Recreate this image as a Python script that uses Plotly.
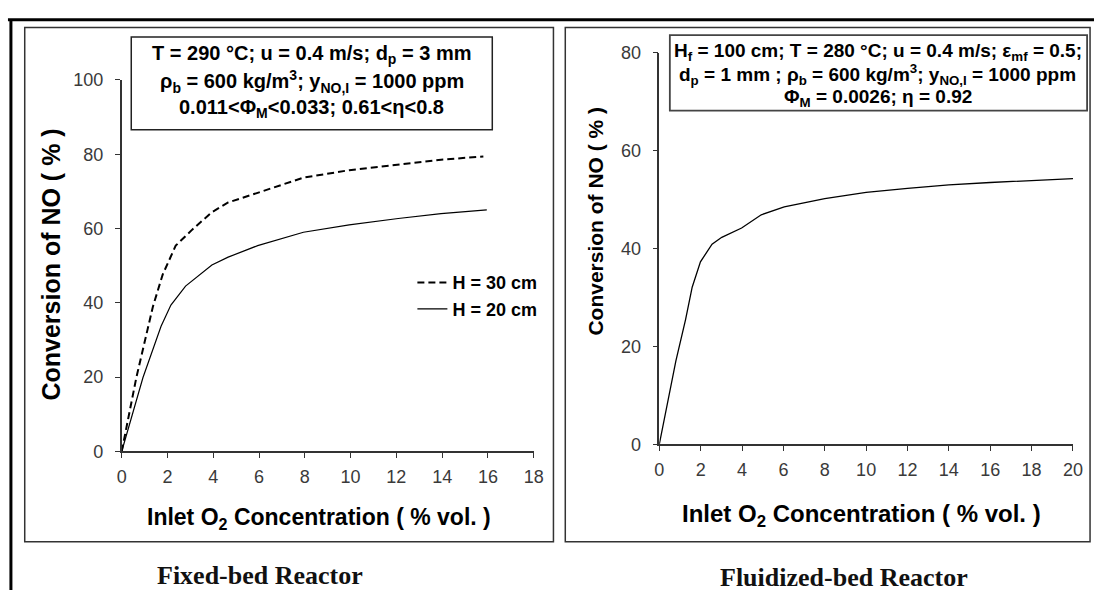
import plotly.graph_objects as go

# ---------------- data ----------------
fixed_x_h30 = [0, 0.64, 1.36, 1.79, 2.36, 3.08, 3.94, 4.65, 5.94, 7.94, 9.94, 12.08, 13.95, 15.8]
fixed_y_h30 = [0, 19.9, 38.9, 47.6, 55.4, 59.7, 64.4, 67.0, 69.6, 73.7, 75.7, 77.1, 78.5, 79.4]

fixed_x_h20 = [0, 0.93, 1.72, 2.15, 2.79, 3.94, 4.65, 5.94, 7.94, 9.94, 12.08, 13.95, 15.95]
fixed_y_h20 = [0, 19.9, 33.7, 39.4, 44.5, 50.2, 52.3, 55.4, 59.0, 61.0, 62.7, 64.0, 65.0]

fluid_x = [0, 0.4, 0.8, 1.27, 1.59, 1.99, 2.55, 3.02, 3.98, 4.93, 6.04, 8.0, 10.0, 12.0, 14.0, 16.0, 18.0, 20.0]
fluid_y = [0, 8.4, 17.0, 25.5, 32.1, 37.3, 40.9, 42.3, 44.2, 46.9, 48.5, 50.2, 51.5, 52.3, 53.0, 53.5, 53.9, 54.3]

fixed_xticks = list(range(0, 19, 2))
fixed_yticks = list(range(0, 101, 20))
fluid_xticks = list(range(0, 21, 2))
fluid_yticks = list(range(0, 81, 20))

legend_names = ["H = 30 cm", "H = 20 cm"]
y_title = "Conversion of NO ( % )"
x_title = "Inlet O<sub>2</sub> Concentration ( % vol. )"
fixed_caption = "Fixed-bed Reactor"
fluid_caption = "Fluidized-bed Reactor"
fixed_box_lines = [
    "T = 290 °C; u = 0.4 m/s; d<sub>p</sub> = 3 mm",
    "ρ<sub>b</sub> = 600 kg/m<sup>3</sup>; y<sub>NO,I</sub> = 1000 ppm",
    "0.011&lt;Φ<sub>M</sub>&lt;0.033; 0.61&lt;η&lt;0.8",
]
fluid_box_lines = [
    "H<sub>f</sub> = 100 cm; T = 280 °C; u = 0.4 m/s; ε<sub>mf</sub> = 0.5;",
    "d<sub>p</sub> = 1 mm ; ρ<sub>b</sub> = 600 kg/m<sup>3</sup>; y<sub>NO,I</sub> = 1000 ppm",
    "Φ<sub>M</sub> = 0.0026; η = 0.92",
]

# ---------------- helpers ----------------
W, H = 1104, 600
def px(x):
    return x / W
def py(y):
    return 1 - y / H

SANS = "Liberation Sans, Arial, sans-serif"
SERIF = "Liberation Serif, Times New Roman, serif"
AX = "#333333"
TICKC = "#3a3a3a"

fig = go.Figure()

fig.add_trace(go.Scatter(x=fixed_x_h30, y=fixed_y_h30, mode="lines",
                         name="<b>" + legend_names[0] + "</b>",
                         line=dict(color="black", width=2, dash="7px,4px"),
                         xaxis="x", yaxis="y"))
fig.add_trace(go.Scatter(x=fixed_x_h20, y=fixed_y_h20, mode="lines",
                         name="<b>" + legend_names[1] + "</b>",
                         line=dict(color="black", width=1.2),
                         xaxis="x", yaxis="y"))
fig.add_trace(go.Scatter(x=fluid_x, y=fluid_y, mode="lines", showlegend=False,
                         line=dict(color="black", width=1.3),
                         xaxis="x2", yaxis="y2"))

axis_common = dict(showline=True, linecolor=AX, linewidth=1.5, ticks="outside",
                   ticklen=5, tickwidth=1.2, tickcolor=AX, showgrid=False,
                   zeroline=False, tickfont=dict(family=SANS, size=18, color=TICKC))

fig.update_layout(
    width=W, height=H,
    margin=dict(l=0, r=0, t=0, b=0),
    paper_bgcolor="white", plot_bgcolor="white",
    xaxis=dict(domain=[px(118.3), px(536)], range=[0, 18], tickvals=fixed_xticks,
               anchor="y", ticklabelstandoff=3, **axis_common),
    yaxis=dict(domain=[py(456.7), py(72.3)], range=[0, 100], tickvals=fixed_yticks,
               anchor="x", ticklabelstandoff=8, **axis_common),
    xaxis2=dict(domain=[px(663.3), px(1082.7)], range=[0, 20], tickvals=fluid_xticks,
                anchor="y2", ticklabelstandoff=3, **axis_common),
    yaxis2=dict(domain=[py(449.3), py(44.3)], range=[0, 80], tickvals=fluid_yticks,
                anchor="x2", ticklabelstandoff=8, **axis_common),
    legend=dict(x=px(413), y=py(263), xanchor="left", yanchor="top",
                bgcolor="rgba(0,0,0,0)", font=dict(family=SANS, size=18, color="black"),
                tracegroupgap=0, itemwidth=30),
)

shapes = []
# outer frame lines
shapes.append(dict(type="line", xref="paper", yref="paper", x0=px(3), x1=px(1104),
                   y0=py(10), y1=py(10), line=dict(color="black", width=3)))
shapes.append(dict(type="line", xref="paper", yref="paper", x0=px(6), x1=px(6),
                   y0=py(10), y1=py(600), line=dict(color="black", width=3)))
# panel boxes
shapes.append(dict(type="rect", xref="paper", yref="paper", x0=px(20), x1=px(556),
                   y0=py(18), y1=py(550), line=dict(color="#333", width=1.5)))
shapes.append(dict(type="rect", xref="paper", yref="paper", x0=px(568), x1=px(1100),
                   y0=py(18), y1=py(550), line=dict(color="#333", width=1.5)))
# parameter boxes
shapes.append(dict(type="rect", xref="paper", yref="paper", x0=px(128), x1=px(494),
                   y0=py(28), y1=py(124), line=dict(color="#222", width=1.5),
                   fillcolor="white"))
shapes.append(dict(type="rect", xref="paper", yref="paper", x0=px(674), x1=px(1097),
                   y0=py(26), y1=py(104), line=dict(color="#444", width=1.8),
                   fillcolor="white"))
fig.update_layout(shapes=shapes)

def A(x, y, text, size, family=SANS, angle=0, color="black"):
    return dict(x=px(x), y=py(y), xref="paper", yref="paper", text=text,
                showarrow=False, xanchor="center", yanchor="middle", textangle=angle,
                font=dict(family=family, size=size, color=color))

ann = []
for i, t in enumerate(fixed_box_lines):
    ann.append(A(311, [46, 74, 102][i], "<b>" + t + "</b>", 20))
for i, t in enumerate(fluid_box_lines):
    ann.append(A(885, [43, 67, 91][i], "<b>" + t + "</b>", 19))
# axis titles
ann.append(A(47, 263, "<b>" + y_title + "</b>", 25, angle=-90))
ann.append(A(599, 218, "<b>" + y_title + "</b>", 21, angle=-90))
ann.append(A(318, 526, "<b>" + x_title + "</b>", 23))
ann.append(A(868, 523, "<b>" + x_title + "</b>", 24))
# captions
ann.append(A(259, 585, "<b>" + fixed_caption + "</b>", 26, family=SERIF, color="#111"))
ann.append(A(851, 587, "<b>" + fluid_caption + "</b>", 26, family=SERIF, color="#111"))
fig.update_layout(annotations=ann)

fig.write_html("out.html")
